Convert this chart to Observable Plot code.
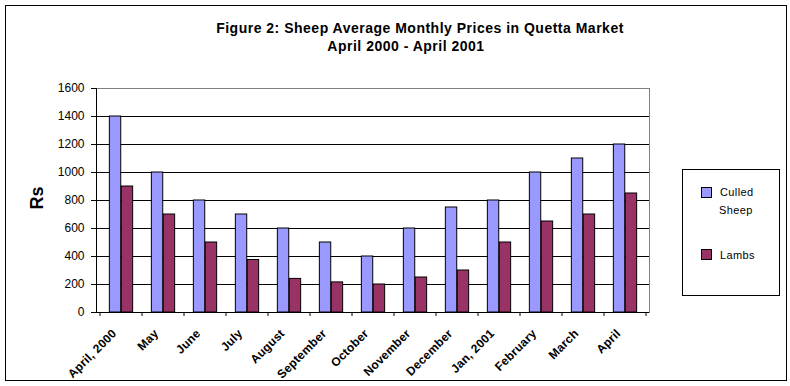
<!DOCTYPE html>
<html><head><meta charset="utf-8">
<script src="https://cdn.jsdelivr.net/npm/d3@7"></script>
<script src="https://cdn.jsdelivr.net/npm/@observablehq/plot@0.6"></script>
<style>body{margin:0;background:#fff;font-family:Arial,"Liberation Sans",sans-serif}</style>
</head><body><div id="chart"></div>
<script>
const months = ["April, 2000","May","June","July","August","September","October","November","December","Jan, 2001","February","March","April"];
const culledSheep = [1400,1000,800,700,600,500,400,600,750,800,1000,1100,1200];
const lambs = [900,700,500,375,240,215,200,250,300,500,650,700,850];
const yTicks = [0,200,400,600,800,1000,1200,1400,1600];
const seriesNames = ["Culled Sheep","Lambs"];
const colors = ["#9999FF","#993366"];

const data = months.map((m,i)=>({month:m, culled:culledSheep[i], lambs:lambs[i]}));
const W=790,H=386,mL=96,mR=141,mT=88,mB=74;
const bw=(W-mL-mR)/months.length;
const barW=bw*0.28;
const side=(bw-2*barW)/2;

const plot = Plot.plot({
  width:W,height:H,marginLeft:mL,marginRight:mR,marginTop:mT,marginBottom:mB,
  style:{fontFamily:"Arial, 'Liberation Sans', sans-serif",fontSize:"11px",color:"#000",background:"transparent"},
  x:{type:"band",domain:months,padding:0,axis:null},
  y:{domain:[0,1600]},
  marks:[
    Plot.gridY(yTicks.slice(1,-1),{stroke:"#000",strokeOpacity:1}),
    Plot.ruleY([1600],{stroke:"#808080"}),
    Plot.frame({anchor:"right",stroke:"#808080"}),
    Plot.barY(data,{x:"month",y:"culled",fill:colors[0],stroke:"#000",strokeWidth:1,insetLeft:side,insetRight:side+barW}),
    Plot.barY(data,{x:"month",y:"lambs",fill:colors[1],stroke:"#000",strokeWidth:1,insetLeft:side+barW,insetRight:side}),
    Plot.ruleY([0],{stroke:"#000"}),
    Plot.frame({anchor:"left",stroke:"#000"}),
    Plot.axisY(yTicks,{tickSize:5,tickPadding:7,label:null,fontSize:12,tickFormat:d=>String(d)}),
    Plot.text(months,{x:d=>d,y:()=>0,text:d=>d,rotate:-45,textAnchor:"end",lineAnchor:"middle",dx:-7,dy:19,fontWeight:"bold",fontSize:12,fill:"#000",clip:false})
  ]
});
const svg=d3.select(plot);
svg.selectAll("text").filter(function(){return this.closest("g[aria-label=text]")}).attr("letter-spacing","0.2px");
const xs=plot.scale("x");
// category boundary ticks
const bounds=months.map(m=>xs.apply(m)).concat([xs.apply(months[months.length-1])+xs.bandwidth]);
svg.append("g").selectAll("line").data(bounds).join("line")
  .attr("x1",d=>d).attr("x2",d=>d).attr("y1",H-mB).attr("y2",H-mB+4).attr("stroke","#000");
// outer border
svg.append("rect").attr("x",5.5).attr("y",5.5).attr("width",781).attr("height",375).attr("fill","none").attr("stroke","#000");
// title
const t=svg.append("text").attr("text-anchor","middle").attr("font-weight","bold").attr("font-size",14).attr("letter-spacing","0.5px").attr("fill","#000");
t.append("tspan").attr("x",420).attr("y",33).text("Figure 2: Sheep Average Monthly Prices in Quetta Market");
t.append("tspan").attr("x",406).attr("y",51).text("April 2000 - April 2001");
// axis title
svg.append("text").attr("transform","translate(43,198) rotate(-90)").attr("text-anchor","middle")
  .attr("font-weight","bold").attr("font-size",18).attr("fill","#000").text("Rs");
// legend
const lg=svg.append("g").attr("text-anchor","start");
lg.append("rect").attr("x",682.5).attr("y",169.5).attr("width",97).attr("height",126).attr("fill","#fff").attr("stroke","#000");
const items=[{name:["Culled","Sheep"],y:187,base:196},{name:["Lambs"],y:249,base:259}];
items.forEach((it,i)=>{
  lg.append("rect").attr("x",701.5).attr("y",it.y+0.5).attr("width",10).attr("height",10).attr("fill",colors[i]).attr("stroke","#000");
  it.name.forEach((s,j)=>lg.append("text").attr("x",j===0?720:719).attr("y",it.base+j*18).attr("font-size",11).attr("letter-spacing","0.4px").attr("fill","#000").text(s));
});
document.getElementById("chart").append(plot);
</script></body></html>
